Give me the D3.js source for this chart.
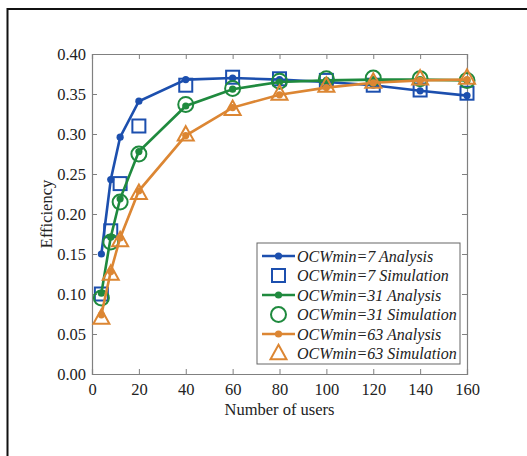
<!DOCTYPE html>
<html>
<head>
<meta charset="utf-8">
<script src="https://cdn.jsdelivr.net/npm/d3@7"></script>
<style>
  body { margin: 0; background: #fff; }
  svg text { font-family: "Liberation Serif", "Times New Roman", serif; fill: #222; }
</style>
</head>
<body>
<div id="chart"></div>
<script>
const users = [4, 8, 12, 20, 40, 60, 80, 100, 120, 140, 160];

const ana7 = [0.150, 0.243, 0.296, 0.341, 0.368, 0.370, 0.368, 0.365, 0.361, 0.354, 0.348];
const sim7 = [0.100, 0.179, 0.238, 0.310, 0.361, 0.371, 0.369, 0.367, 0.361, 0.355, 0.351];
const ana31 = [0.101, 0.171, 0.219, 0.278, 0.335, 0.356, 0.365, 0.367, 0.368, 0.368, 0.367];
const sim31 = [0.095, 0.165, 0.215, 0.275, 0.337, 0.357, 0.366, 0.369, 0.370, 0.369, 0.367];
const ana63 = [0.074, 0.128, 0.170, 0.229, 0.298, 0.333, 0.349, 0.358, 0.364, 0.367, 0.368];
const sim63 = [0.070, 0.125, 0.167, 0.226, 0.299, 0.331, 0.350, 0.360, 0.365, 0.369, 0.370];

const xTicks = [0, 20, 40, 60, 80, 100, 120, 140, 160];
const yTicks = [0, 0.05, 0.10, 0.15, 0.20, 0.25, 0.30, 0.35, 0.40];

const series = [
  { label: "OCWmin=7 Analysis", values: ana7, color: "#1c4fae", kind: "line" },
  { label: "OCWmin=7 Simulation", values: sim7, color: "#1c4fae", kind: "square" },
  { label: "OCWmin=31 Analysis", values: ana31, color: "#1f8a3e", kind: "line" },
  { label: "OCWmin=31 Simulation", values: sim31, color: "#1f8a3e", kind: "circle" },
  { label: "OCWmin=63 Analysis", values: ana63, color: "#dc8633", kind: "line" },
  { label: "OCWmin=63 Simulation", values: sim63, color: "#dc8633", kind: "triangle" }
];

const width = 527, height = 456;
const margin = { top: 54, right: 60, bottom: 82, left: 92 };

const svg = d3.select("#chart").append("svg")
  .attr("width", width).attr("height", height);

// outer frame (only top and left edges show in the picture)
svg.append("path")
  .attr("d", `M7.5,${height} V9 H${width}`)
  .attr("fill", "none").attr("stroke", "#111").attr("stroke-width", 2);

const x = d3.scaleLinear().domain([0, 160]).range([margin.left, width - margin.right]);
const y = d3.scaleLinear().domain([0, 0.40]).range([height - margin.bottom, margin.top]);

const axisColor = "#808080";
const tickLen = 5;

// axes: inward ticks on all four sides
const gx = svg.append("g").attr("transform", `translate(0,${y(0)})`)
  .call(d3.axisBottom(x).tickValues(xTicks).tickSize(-tickLen).tickPadding(9).tickFormat(d3.format("d")));
const gxt = svg.append("g").attr("transform", `translate(0,${y(0.40)})`)
  .call(d3.axisTop(x).tickValues(xTicks).tickSize(-tickLen).tickFormat(""));
const gy = svg.append("g").attr("transform", `translate(${x(0)},0)`)
  .call(d3.axisLeft(y).tickValues(yTicks).tickSize(-tickLen).tickPadding(6).tickFormat(d3.format(".2f")));
const gyr = svg.append("g").attr("transform", `translate(${x(160)},0)`)
  .call(d3.axisRight(y).tickValues(yTicks).tickSize(-tickLen).tickFormat(""));

[gx, gxt, gy, gyr].forEach(g => {
  g.attr("font-family", null).attr("font-size", null);
  g.select(".domain").attr("stroke", axisColor).attr("stroke-width", 1.2);
  g.selectAll(".tick line").attr("stroke", axisColor);
  g.selectAll(".tick text").attr("font-size", 16.5).attr("fill", "#222");
});
// no tick marks at the corners
gx.selectAll(".tick").filter(d => d === 0 || d === 160).select("line").remove();
gxt.selectAll(".tick").filter(d => d === 0 || d === 160).select("line").remove();
gy.selectAll(".tick").filter(d => d === 0 || d === 0.40).select("line").remove();
gyr.selectAll(".tick").filter(d => d === 0 || d === 0.40).select("line").remove();

svg.append("text")
  .attr("x", x(80)).attr("y", 415)
  .attr("text-anchor", "middle").attr("font-size", 16.5)
  .text("Number of users");

svg.append("text")
  .attr("transform", `translate(52,${y(0.20)}) rotate(-90)`)
  .attr("text-anchor", "middle").attr("font-size", 16.5)
  .text("Efficiency");

const line = d3.line().x((d, i) => x(users[i])).y(d => y(d));

const sq = 13, cr = 7.5, tri = 16;
function drawMarker(g, kind, color, cx, cy) {
  if (kind === "square") {
    g.append("rect").attr("x", cx - sq / 2).attr("y", cy - sq / 2)
      .attr("width", sq).attr("height", sq)
      .attr("fill", "none").attr("stroke", color).attr("stroke-width", 2);
  } else if (kind === "circle") {
    g.append("circle").attr("cx", cx).attr("cy", cy).attr("r", cr)
      .attr("fill", "none").attr("stroke", color).attr("stroke-width", 2);
  } else if (kind === "triangle") {
    const h = tri * 0.9;
    g.append("path")
      .attr("d", `M${cx},${cy - h * 0.6} L${cx + tri / 2},${cy + h * 0.4} L${cx - tri / 2},${cy + h * 0.4} Z`)
      .attr("fill", "none").attr("stroke", color).attr("stroke-width", 2);
  } else {
    g.append("circle").attr("cx", cx).attr("cy", cy).attr("r", 3.6).attr("fill", color);
  }
}

const plot = svg.append("g");
series.forEach(s => {
  const g = plot.append("g");
  if (s.kind === "line") {
    g.append("path").datum(s.values).attr("d", line)
      .attr("fill", "none").attr("stroke", s.color).attr("stroke-width", 2.6);
    s.values.forEach((v, i) => drawMarker(g, "dot", s.color, x(users[i]), y(v)));
  } else {
    s.values.forEach((v, i) => drawMarker(g, s.kind, s.color, x(users[i]), y(v)));
  }
});

// legend
const lg = svg.append("g").attr("transform", "translate(257,243)");
lg.append("rect").attr("width", 203).attr("height", 121)
  .attr("fill", "#fff").attr("stroke", "#666").attr("stroke-width", 1);
series.forEach((s, i) => {
  const cy = 13 + i * 19.5;
  const row = lg.append("g");
  if (s.kind === "line") {
    row.append("line").attr("x1", 5).attr("x2", 38).attr("y1", cy).attr("y2", cy)
      .attr("stroke", s.color).attr("stroke-width", 2.6);
    drawMarker(row, "dot", s.color, 21.5, cy);
  } else {
    drawMarker(row, s.kind, s.color, 21.5, cy);
  }
  row.append("text").attr("x", 40).attr("y", cy + 5.5)
    .attr("font-size", 16).attr("font-style", "italic")
    .text(s.label);
});
</script>
</body>
</html>
